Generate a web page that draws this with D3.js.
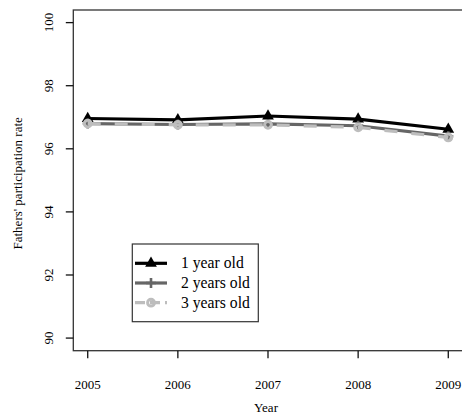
<!DOCTYPE html>
<html>
<head>
<meta charset="utf-8">
<script src="https://cdn.jsdelivr.net/npm/d3@7"></script>
<style>
  body { margin: 0; background: #fff; }
  text { font-family: "Liberation Serif", "DejaVu Serif", serif; font-size: 13px; fill: #000; }
  .legend text { font-size: 15.7px; }
</style>
</head>
<body>
<svg id="chart" width="462" height="417"></svg>
<script>
// data
var years = [2005, 2006, 2007, 2008, 2009];
var oneYear = [96.96, 96.92, 97.04, 96.94, 96.62];
var twoYears = [96.80, 96.77, 96.79, 96.73, 96.40];
var threeYears = [96.80, 96.76, 96.76, 96.68, 96.36];
var yTicks = [90, 92, 94, 96, 98, 100];
var seriesNames = ["1 year old", "2 years old", "3 years old"];

var series = [
  { name: seriesNames[0], values: oneYear, color: "#000", dash: null, marker: "triangle" },
  { name: seriesNames[1], values: twoYears, color: "#666", dash: null, marker: "plus" },
  { name: seriesNames[2], values: threeYears, color: "#bdbdbd", dash: "13,14", marker: "circle" }
];

var svg = d3.select("#chart");
// note: "top" is taken by window.top, so use plot* names
var plotL = 73.3, plotR = 462.7, plotT = 10, plotB = 350.7;

// R style 4% padding on both axes
var x = d3.scaleLinear().domain([2005 - 0.16, 2009 + 0.16]).range([plotL, plotR]);
var y = d3.scaleLinear().domain([89.6, 100.4]).range([plotB, plotT]);

// box
svg.append("rect")
  .attr("x", plotL).attr("y", plotT)
  .attr("width", plotR - plotL).attr("height", plotB - plotT)
  .attr("fill", "none").attr("stroke", "#333").attr("stroke-width", 1.3);

// x axis
var xg = svg.append("g").attr("transform", "translate(0," + plotB + ")");
xg.selectAll("line").data(years).enter().append("line")
  .attr("x1", d => x(d)).attr("x2", d => x(d))
  .attr("y1", 0).attr("y2", 7.5)
  .attr("stroke", "#111").attr("stroke-width", 1.3);
xg.selectAll("text").data(years).enter().append("text")
  .attr("x", d => x(d)).attr("y", 38)
  .attr("text-anchor", "middle")
  .text(d => d);

// y axis
var yg = svg.append("g").attr("transform", "translate(" + plotL + ",0)");
yg.selectAll("line").data(yTicks).enter().append("line")
  .attr("x1", 0).attr("x2", -7.5)
  .attr("y1", d => y(d)).attr("y2", d => y(d))
  .attr("stroke", "#111").attr("stroke-width", 1.3);
yg.selectAll("text").data(yTicks).enter().append("text")
  .attr("transform", d => "translate(-20," + y(d) + ") rotate(-90)")
  .attr("text-anchor", "middle")
  .text(d => d);

// axis titles
svg.append("text")
  .attr("x", (plotL + plotR) / 2 - 2).attr("y", 412)
  .attr("text-anchor", "middle")
  .text("Year");
svg.append("text")
  .attr("transform", "translate(22," + ((plotT + plotB) / 2 + 3) + ") rotate(-90)")
  .attr("text-anchor", "middle")
  .text("Fathers' participation rate");

function drawMarker(g, type, color) {
  if (type === "triangle") {
    g.append("path").attr("d", d3.symbol(d3.symbolTriangle, 60)()).attr("fill", color);
  } else if (type === "plus") {
    g.append("path").attr("d", "M-5,0H5M0,-5V5")
      .attr("stroke", color).attr("stroke-width", 2.6).attr("fill", "none");
  } else {
    g.append("circle").attr("r", 3.4)
      .attr("fill", "none").attr("stroke", color).attr("stroke-width", 3);
  }
}

var line = d3.line().x((d, i) => x(years[i])).y(d => y(d));

series.forEach(function(s) {
  svg.append("path")
    .attr("d", line(s.values))
    .attr("fill", "none")
    .attr("stroke", s.color)
    .attr("stroke-width", 3.2)
    .attr("stroke-dasharray", s.dash);
  s.values.forEach(function(v, i) {
    var g = svg.append("g").attr("transform", "translate(" + x(years[i]) + "," + y(v) + ")");
    drawMarker(g, s.marker, s.color);
  });
});

// legend
var lg = svg.append("g").attr("class", "legend");
lg.append("rect")
  .attr("x", 132.3).attr("y", 244)
  .attr("width", 126).attr("height", 77.7)
  .attr("fill", "#fff").attr("stroke", "#333").attr("stroke-width", 1.2);
series.forEach(function(s, i) {
  var ry = 263.3 + i * 19.7;
  lg.append("line")
    .attr("x1", 135).attr("x2", 167).attr("y1", ry).attr("y2", ry)
    .attr("stroke", s.color).attr("stroke-width", 3.2)
    .attr("stroke-dasharray", s.dash ? "10,5" : null);
  var g = lg.append("g").attr("transform", "translate(151," + ry + ")");
  drawMarker(g, s.marker, s.color);
  lg.append("text")
    .attr("x", 181).attr("y", ry + 5)
    .text(s.name);
});
</script>
</body>
</html>
